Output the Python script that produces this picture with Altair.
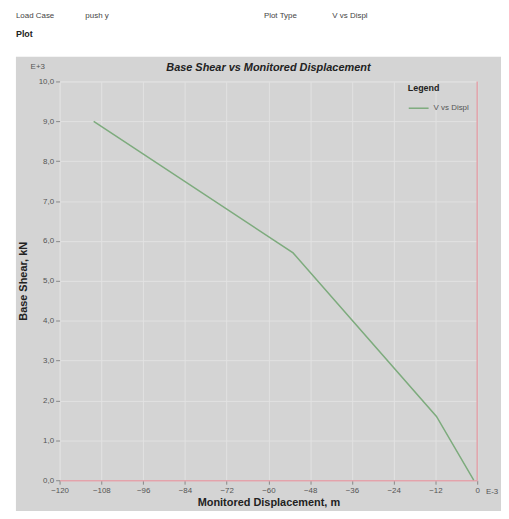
import altair as alt
import pandas as pd

# Data
disp = [-110.2, -52.9, -11.7, -1.0]      # Monitored displacement, E-3 m
shear = [9.0, 5.7, 1.6, 0.0]             # Base shear, E+3 kN
series = ["V vs Displ"] * len(disp)

x_ticks = list(range(-120, 1, 12))
y_ticks = list(range(0, 11, 1))

df = pd.DataFrame({"disp": disp, "shear": shear, "series": series})

W, H = 421, 402
GRAY = "#d4d4d4"
RED = "#e3a3ab"
FONT = "Liberation Sans"

base = alt.Chart(df)

x_enc = alt.X(
    "disp:Q",
    scale=alt.Scale(domain=[-120, 0], nice=False, zero=False),
    axis=alt.Axis(
        values=x_ticks,
        title="Monitored Displacement, m",
        titleFontSize=11,
        titleFontWeight="bold",
        titleColor="#222",
        titlePadding=3,
        labelFontSize=8,
        labelColor="#555",
        labelPadding=2,
        tickSize=4,
        tickColor="#888",
        domainColor=RED,
        domainWidth=1.5,
        gridColor="#e2e2e2",
        labelFlush=False,
    ),
)
y_enc = alt.Y(
    "shear:Q",
    scale=alt.Scale(domain=[0, 10], nice=False),
    axis=alt.Axis(
        values=y_ticks,
        labelExpr="replace(format(datum.value, '.1f'), '.', ',')",
        title="Base Shear, kN",
        titleFontSize=11,
        titleFontWeight="bold",
        titleColor="#222",
        titlePadding=10,
        labelFontSize=8,
        labelColor="#555",
        labelPadding=2,
        tickSize=4,
        tickColor="#888",
        domain=False,
        gridColor="#e2e2e2",
    ),
)

line = base.mark_line(strokeWidth=1.5).encode(
    x=x_enc,
    y=y_enc,
    color=alt.Color(
        "series:N",
        scale=alt.Scale(range=["#7dab7d"]),
        legend=alt.Legend(
            title="Legend",
            orient="none",
            legendX=351,
            legendY=3,
            titleFontSize=9,
            titleFontWeight="bold",
            titleColor="#222",
            labelFontSize=8,
            labelColor="#555",
            symbolType="stroke",
            symbolSize=400,
            symbolStrokeWidth=1.5,
            titlePadding=4,
        ),
    ),
)

right_border = alt.Chart(pd.DataFrame({"x": [0]})).mark_rule(
    color=RED, strokeWidth=1.5
).encode(x=alt.X("x:Q", scale=alt.Scale(domain=[-120, 0])))

# White page areas around the grey panel
header_bg = alt.Chart(pd.DataFrame({"a": [0]})).mark_rect(color="white").encode(
    x=alt.value(-60), x2=alt.value(500), y=alt.value(-80), y2=alt.value(-25)
)
left_bg = alt.Chart(pd.DataFrame({"a": [0]})).mark_rect(color="white").encode(
    x=alt.value(-60), x2=alt.value(-44), y=alt.value(-30), y2=alt.value(440)
)

def txt(s, x, y, size=8, weight="normal", color="#444", align="left", style="normal"):
    return alt.Chart(pd.DataFrame({"t": [s]})).mark_text(
        fontSize=size, fontWeight=weight, color=color, align=align,
        baseline="middle", font=FONT, fontStyle=style
    ).encode(text="t:N", x=alt.value(x), y=alt.value(y))

labels = [
    txt("Load Case", -44, -66),
    txt("push y", 26, -66),
    txt("Plot Type", 206, -66),
    txt("V vs Displ", 275, -66),
    txt("Plot", -44, -48, size=9, weight="bold", color="#222"),
    txt("E+3", -22, -15, color="#555", align="center"),
    txt("E-3", 436, 414, color="#555", align="center"),
    txt("Base Shear vs Monitored Displacement", W / 2, -14, size=11,
        weight="bold", color="#222", align="center", style="italic"),
]

chart = alt.layer(header_bg, left_bg, right_border, line, *labels).properties(
    width=W,
    height=H,
    background=GRAY,
    padding={"left": 52, "top": 72, "right": 24, "bottom": 29},
    autosize=alt.AutoSizeParams(type="none"),
).configure_view(fill="white", stroke=None).configure(font=FONT)

chart.save("out.html", embed_options={"renderer": "svg", "actions": False})
